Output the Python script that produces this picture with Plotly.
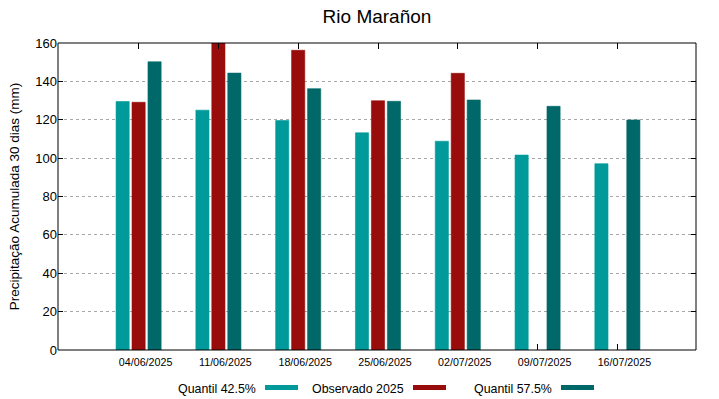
import plotly.graph_objects as go

dates = ["04/06/2025", "11/06/2025", "18/06/2025", "25/06/2025",
         "02/07/2025", "09/07/2025", "16/07/2025"]
q425 = [129.5, 125.0, 119.6, 113.2, 108.8, 101.6, 97.1]
obs2025 = [129.1, 160.0, 156.2, 129.9, 144.2, None, None]
q575 = [150.2, 144.3, 136.2, 129.6, 130.3, 127.0, 119.9]
series_names = ["Quantil 42.5%", "Observado 2025", "Quantil 57.5%"]
colors = ["#009a9a", "#990c0c", "#006868"]

W, H = 719, 399
L, R, T, B = 58, 23, 43, 49
pw, ph = W - L - R, H - T - B

bw = 0.165
offsets = [-0.2 - bw / 2, -bw / 2, 0.2 - bw / 2]
xrange_ = [-1.01, 6.985]

fig = go.Figure()
for name, vals, col, off in zip(series_names, [q425, obs2025, q575], colors, offsets):
    fig.add_trace(go.Bar(
        x=dates, y=vals, name=name, width=bw, offset=off,
        marker=dict(color=col, line=dict(width=0.6, color=col)),
        showlegend=False, xaxis="x", yaxis="y",
    ))
# invisible helper trace so the mirrored top / right axes get their ticks
fig.add_trace(go.Scatter(x=dates, y=q425, xaxis="x2", yaxis="y2",
                         mode="lines", line=dict(width=0), opacity=0,
                         showlegend=False, hoverinfo="skip"))

fig.update_layout(
    width=W, height=H,
    margin=dict(l=L, r=R, t=T, b=B),
    paper_bgcolor="white", plot_bgcolor="white",
    barmode="overlay",
    font=dict(family="Liberation Sans, Arial, sans-serif", color="black"),
    title=dict(text="Rio Marañon", x=(L + pw / 2) / W, xanchor="center",
               y=1 - 16 / H, yanchor="middle", font=dict(size=19)),
    xaxis=dict(type="category", range=xrange_, showgrid=False,
               ticks="inside", ticklen=6, tickcolor="black", layer="below traces",
               showline=False, tickfont=dict(size=10.7),
               ticklabelstandoff=4, ticklabelshift=7, zeroline=False),
    xaxis2=dict(type="category", range=xrange_, overlaying="x", side="top",
                anchor="y", showgrid=False, ticks="inside", ticklen=6,
                tickwidth=1, tickcolor="black", showticklabels=False,
                showline=False, zeroline=False),
    yaxis=dict(range=[0, 160], dtick=20, tick0=0, showgrid=True,
               gridcolor="#a8a8a8", griddash="dot", gridwidth=1,
               ticks="inside", ticklen=5, tickcolor="black",
               showline=False, zeroline=False, tickfont=dict(size=13),
               title=dict(text="Precipitação Acumulada 30 dias (mm)",
                          font=dict(size=13.5), standoff=12)),
    yaxis2=dict(range=[0, 160], dtick=20, tick0=0, overlaying="y",
                side="right", anchor="x", showgrid=False, ticks="inside",
                ticklen=5, tickcolor="black", showticklabels=False,
                showline=False, zeroline=False),
)

# plot frame
fig.add_shape(type="rect", xref="paper", yref="paper", x0=0, x1=1, y0=0, y1=1,
              line=dict(color="black", width=1), layer="above")

# gnuplot-style legend: text followed by a colour sample
leg_text_right = [258, 406, 554]
leg_y = 389
for name, col, xr in zip(series_names, colors, leg_text_right):
    fig.add_annotation(text=name, xref="paper", yref="paper",
                       x=(xr - L) / pw, y=(H - B - leg_y) / ph,
                       xanchor="right", yanchor="middle", showarrow=False,
                       font=dict(size=12.4, color="black"))
    fig.add_shape(type="rect", xref="paper", yref="paper",
                  x0=(xr + 7 - L) / pw, x1=(xr + 40 - L) / pw,
                  y0=(H - B - 390) / ph, y1=(H - B - 385) / ph,
                  fillcolor=col, line=dict(width=0))

fig.write_html("out.html", config={"displayModeBar": False},
               post_script="document.body.style.margin='0';document.body.style.overflow='hidden';")
